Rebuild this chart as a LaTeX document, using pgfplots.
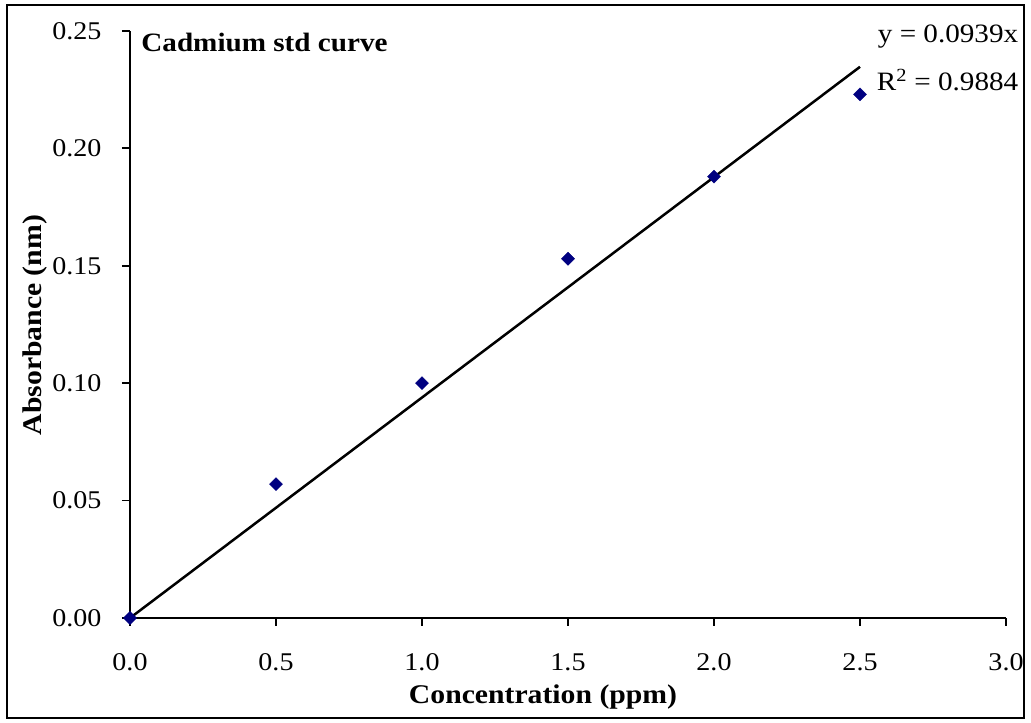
\documentclass[border=0pt]{standalone}
\usepackage{pgfplots}
\pgfplotsset{compat=1.18}
\usepackage{fontspec}
\setmainfont[FakeStretch=1.1]{Liberation Serif}
\definecolor{navymark}{RGB}{0,0,128}
\begin{document}
\begin{tikzpicture}[x=1pt,y=1pt]
\fill[white] (0,0) rectangle (1031,723);
\draw[line width=2.5pt] (7,5) rectangle (1024,718);
\begin{axis}[
  at={(130pt,105pt)}, anchor=south west,
  scale only axis, width=876pt, height=587pt,
  xmin=0, xmax=3, ymin=0, ymax=0.25,
  axis x line*=bottom, axis y line*=left,
  axis line style={line width=1.8pt},
  tick align=outside, major tick length=8pt,
  tick style={line width=1.8pt, black},
  xtick={0,0.5,...,3}, ytick={0,0.05,...,0.25},
  minor tick num=0,
  /pgf/number format/assume math mode=true,
  xticklabel style={/pgf/number format/fixed, /pgf/number format/fixed zerofill, /pgf/number format/precision=1, yshift=-24pt},
  yticklabel style={/pgf/number format/fixed, /pgf/number format/fixed zerofill, /pgf/number format/precision=2, xshift=-17pt},
  scaled y ticks=false,
  ticklabel style={font=\fontsize{25.5}{29}\selectfont},
  xlabel={\textbf{Concentration (ppm)}},
  ylabel={\textbf{Absorbance (nm)}},
  label style={font=\fontsize{27}{30}\selectfont},
  xlabel style={at={(axis description cs:0.4715,-0.1346)}, anchor=center},
  ylabel style={at={(axis description cs:-0.1085,0.499)}, anchor=center},
  clip=false,
]
\addplot[black, line width=2.5pt] coordinates {(0,0) (2.5,0.23475)};
\addplot[only marks, mark=square*, mark size=4.6pt, mark options={rotate=45, fill=navymark, draw=navymark}] coordinates {
(0,0) (0.5,0.057) (1.0,0.100) (1.5,0.153) (2.0,0.188) (2.5,0.223)};
\node[anchor=west, font=\fontsize{26.5}{30}\selectfont\bfseries] at (rel axis cs:0.009,0.98) {Cadmium std curve};
\node[anchor=east, font=\fontsize{26.5}{30}\selectfont] at (rel axis cs:1.018,0.99) {y = 0.0939x};
\node[anchor=east, font=\fontsize{26.5}{30}\selectfont] at (rel axis cs:1.018,0.917) {R\textsuperscript{2} = 0.9884};
\end{axis}
\end{tikzpicture}
\end{document}
